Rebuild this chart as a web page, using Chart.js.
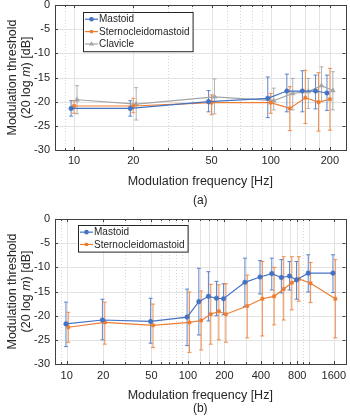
<!DOCTYPE html>
<html>
<head>
<meta charset="utf-8">
<script src="https://cdn.jsdelivr.net/npm/chart.js@4.4.1/dist/chart.umd.min.js"></script>
<style>
html, body { margin: 0; padding: 0; background: #fff; }
#wrap { position: relative; width: 350px; height: 418px; overflow: hidden; }
canvas { position: absolute; left: 0; }
</style>
</head>
<body>
<div id="wrap">
  <canvas id="chartA" width="350" height="212" style="top:0"></canvas>
  <canvas id="chartB" width="350" height="206" style="top:212px"></canvas>
</div>
<script>
// ---- data (a): three sites, 10-200 Hz ----
const freqA = [10, 20, 50, 100, 125, 150, 175, 200];
const mastoidA = [-21.4, -21.4, -20.0, -19.3, -17.8, -17.8, -17.8, -18.2];
const mastoidA_hi = [-19.8, -19.8, -17.7, -14.9, -14.3, -13.6, -14.5, -14.5];
const mastoidA_lo = [-23.0, -23.0, -22.1, -23.3, -22.1, -22.1, -21.5, -21.8];
const scmA = [-20.9, -20.9, -20.2, -20.2, -21.4, -19.2, -20.1, -19.5];
const scmA_hi = [-19.8, -19.3, -18.6, -18.3, -16.9, -13.5, -14.0, -13.1];
const scmA_lo = [-22.4, -22.3, -22.7, -22.4, -26.0, -24.5, -26.1, -25.9];
const clavA = [-19.6, -20.5, -19.0, -19.8, -18.3, -17.9, -16.7, -17.7];
const clavA_hi = [-16.7, -17.1, -15.3, -17.2, -15.2, -15.2, -12.8, -13.8];
const clavA_lo = [-22.5, -23.8, -22.5, -21.7, -21.7, -21.4, -20.0, -21.7];
const labelsA = [10, 20, 50, 100, 200];
const minorA = [9, 30, 40, 60, 70, 80, 90];

// ---- data (b): two sites, 10-1600 Hz ----
const freqB = [10, 20, 50, 100, 125, 150, 175, 200, 300, 400, 500, 600, 700, 800, 1000, 1600];
const mastoidB = [-21.7, -20.9, -21.2, -20.3, -17.1, -16.0, -16.4, -16.5, -13.1, -12.0, -11.3, -12.1, -11.8, -12.6, -11.2, -11.2];
const mastoidB_hi = [-17.2, -16.6, -16.4, -14.5, -10.2, -10.9, -12.9, -13.4, -8.1, -8.6, -8.1, -8.4, -8.8, -8.8, -7.4, -7.4];
const mastoidB_lo = [-26.4, -25.0, -25.7, -26.2, -24.0, -21.1, -20.0, -19.8, -18.1, -15.5, -14.7, -15.3, -14.7, -16.6, -15.1, -15.2];
const scmB = [-22.4, -21.4, -22.0, -21.4, -21.0, -19.7, -19.1, -19.7, -18.0, -16.5, -16.0, -14.5, -13.2, -12.4, -13.3, -16.5];
const scmB_hi = [-19.3, -17.2, -17.6, -15.1, -14.9, -13.5, -13.6, -13.4, -11.6, -8.8, -10.0, -7.8, -7.8, -7.8, -9.0, -8.4];
const scmB_lo = [-25.5, -25.9, -26.6, -27.6, -27.1, -25.9, -25.0, -25.5, -24.6, -24.2, -21.9, -20.9, -18.8, -17.0, -17.3, -24.6];
const labelsB = [10, 20, 50, 100, 200, 400, 800, 1600];
const minorB = [9, 30, 40, 60, 70, 80, 90, 900];

const yTicks = [0, -5, -10, -15, -20, -25, -30];

const FONT = "'Liberation Sans', Arial, sans-serif";
const TXT = '#262626';
const BLUE = '#4472C4', ORANGE = '#ED7D31', GRAY = '#A5A5A5';

// small shift on the log axis so the error bars don't sit on top of each other
const pts = (f, v, shift) => f.map((fr, i) => ({ x: fr * shift, y: v[i] }));

const series = (label, color, style, radius, f, v, hi, lo, shift) => ({
    label, data: pts(f, v, shift), errHi: hi, errLo: lo,
    borderColor: color, backgroundColor: color,
    pointBackgroundColor: color, pointBorderColor: color,
    pointStyle: style, pointRadius: radius, pointBorderWidth: 0.5,
    borderWidth: 1.2, tension: 0
});

const marker = (ctx, style, x, y) => {
    ctx.beginPath();
    if (style === 'circle') ctx.arc(x, y, 2.3, 0, Math.PI * 2);
    else if (style === 'rect') ctx.rect(x - 1.6, y - 1.6, 3.2, 3.2);
    else { ctx.moveTo(x, y - 2.8); ctx.lineTo(x + 2.6, y + 1.6); ctx.lineTo(x - 2.6, y + 1.6); ctx.closePath(); }
    ctx.fill();
};

const frame = {
    id: 'frame',
    beforeDatasetsDraw(chart) {
        const { ctx, chartArea: a, scales: { x, y } } = chart;
        const p = chart.options.plugins.frame;
        ctx.save();
        ctx.lineWidth = 1;
        ctx.strokeStyle = '#e3e3e3';
        const vline = (v) => { const px = Math.round(x.getPixelForValue(v)) + 0.5; ctx.beginPath(); ctx.moveTo(px, a.top); ctx.lineTo(px, a.bottom); ctx.stroke(); };
        yTicks.forEach(v => {
            const py = Math.round(y.getPixelForValue(v)) + 0.5;
            ctx.beginPath(); ctx.moveTo(a.left, py); ctx.lineTo(a.right, py); ctx.stroke();
        });
        p.major.forEach(vline);
        ctx.strokeStyle = '#d6d6d6';
        ctx.setLineDash([1, 2]);
        p.minor.forEach(vline);
        ctx.setLineDash([]);

        // error bars
        chart.data.datasets.forEach((ds, i) => {
            const meta = chart.getDatasetMeta(i);
            ctx.strokeStyle = ds.borderColor;
            ctx.globalAlpha = 0.85;
            meta.data.forEach((pt, j) => {
                const t = y.getPixelForValue(ds.errHi[j]);
                const b = y.getPixelForValue(ds.errLo[j]);
                ctx.beginPath();
                ctx.moveTo(pt.x, t); ctx.lineTo(pt.x, b);
                ctx.moveTo(pt.x - 2, t); ctx.lineTo(pt.x + 2, t);
                ctx.moveTo(pt.x - 2, b); ctx.lineTo(pt.x + 2, b);
                ctx.stroke();
            });
        });
        ctx.restore();
    },
    afterDatasetsDraw(chart) {
        const { ctx, chartArea: a, scales: { x, y } } = chart;
        const p = chart.options.plugins.frame;
        ctx.save();

        // box + inward ticks
        ctx.strokeStyle = '#404040';
        ctx.lineWidth = 1;
        ctx.strokeRect(Math.round(a.left) + 0.5, Math.round(a.top) + 0.5, Math.round(a.right - a.left), Math.round(a.bottom - a.top));
        ctx.beginPath();
        p.major.concat(p.minor).forEach(v => {
            const px = Math.round(x.getPixelForValue(v)) + 0.5;
            const len = p.labels.includes(v) ? 3 : 2;
            ctx.moveTo(px, a.bottom); ctx.lineTo(px, a.bottom - len);
            ctx.moveTo(px, a.top); ctx.lineTo(px, a.top + len);
        });
        yTicks.forEach(v => {
            const py = Math.round(y.getPixelForValue(v)) + 0.5;
            ctx.moveTo(a.left, py); ctx.lineTo(a.left + 3, py);
            ctx.moveTo(a.right, py); ctx.lineTo(a.right - 3, py);
        });
        ctx.stroke();

        // tick labels
        ctx.fillStyle = TXT;
        ctx.font = '11px ' + FONT;
        ctx.textBaseline = 'middle';
        ctx.textAlign = 'right';
        yTicks.forEach(v => ctx.fillText(String(v), a.left - 5, y.getPixelForValue(v)));
        ctx.textAlign = 'center';
        p.labels.forEach(v => ctx.fillText(String(v), x.getPixelForValue(v), a.bottom + p.tickOff));

        // axis titles
        const cx = (a.left + a.right) / 2, cy = (a.top + a.bottom) / 2;
        ctx.font = '12.5px ' + FONT;
        ctx.fillText('Modulation frequency [Hz]', cx, a.bottom + p.titleOff);
        ctx.font = '12px ' + FONT;
        ctx.fillText(p.panel, cx, a.bottom + p.panelOff);

        ctx.save();
        ctx.translate(13, cy);
        ctx.rotate(-Math.PI / 2);
        ctx.font = '12.5px ' + FONT;
        ctx.fillText('Modulation threshold', 0, 0);
        const parts = [['(20 log ', '12.5px '], ['m', 'italic 12.5px '], [') [dB]', '12.5px ']];
        let w = 0;
        parts.forEach(([s, f]) => { ctx.font = f + FONT; w += ctx.measureText(s).width; });
        let sx = -w / 2;
        ctx.textAlign = 'left';
        parts.forEach(([s, f]) => { ctx.font = f + FONT; ctx.fillText(s, sx, 14); sx += ctx.measureText(s).width; });
        ctx.restore();

        // legend
        const L = p.legend;
        ctx.font = '10px ' + FONT;
        const dsets = chart.data.datasets;
        const tw = Math.max(...dsets.map(d => ctx.measureText(d.label).width));
        const bw = 16 + tw + 3, bh = dsets.length * L.row + 2;
        ctx.fillStyle = '#fff';
        ctx.fillRect(L.x, L.y, bw, bh);
        ctx.strokeStyle = '#262626';
        ctx.lineWidth = 1;
        ctx.strokeRect(L.x + 0.5, L.y + 0.5, bw, bh);
        dsets.forEach((d, i) => {
            const ry = L.y + 1 + L.row * (i + 0.5);
            ctx.strokeStyle = d.borderColor;
            ctx.lineWidth = 1.2;
            ctx.beginPath(); ctx.moveTo(L.x + 2, ry); ctx.lineTo(L.x + 15, ry); ctx.stroke();
            ctx.fillStyle = d.borderColor;
            marker(ctx, d.pointStyle, L.x + 8.5, ry);
            ctx.fillStyle = TXT;
            ctx.textAlign = 'left';
            ctx.fillText(d.label, L.x + 16, ry + 0.5);
        });
        ctx.restore();
    }
};

const makePanel = (id, datasets, opt) => new Chart(document.getElementById(id), {
    type: 'line',
    data: { datasets },
    options: {
        responsive: false,
        devicePixelRatio: 1,
        animation: false,
        layout: { padding: { left: 0, right: 3, top: opt.padTop, bottom: 0 } },
        scales: {
            x: {
                type: 'logarithmic', min: 8, max: opt.xMax,
                ticks: { display: false }, grid: { display: false }, border: { display: false },
                afterFit: s => { s.height = opt.xHeight; }
            },
            y: {
                type: 'linear', min: -30, max: 0,
                ticks: { display: false }, grid: { display: false }, border: { display: false },
                afterFit: s => { s.width = 55; }
            }
        },
        plugins: {
            legend: { display: false },
            tooltip: { enabled: false },
            frame: opt
        }
    },
    plugins: [frame]
});

makePanel('chartA', [
    series('Mastoid', BLUE, 'circle', 2.3, freqA, mastoidA, mastoidA_hi, mastoidA_lo, 0.966),
    series('Sternocleidomastoid', ORANGE, 'rect', 2.2, freqA, scmA, scmA_hi, scmA_lo, 1.0),
    series('Clavicle', GRAY, 'triangle', 2.8, freqA, clavA, clavA_hi, clavA_lo, 1.035)
], {
    padTop: 5, xHeight: 62, xMax: 240,
    labels: labelsA, major: freqA, minor: minorA,
    tickOff: 11, titleOff: 31.5, panelOff: 51, panel: '(a)',
    legend: { x: 83, y: 12, row: 12.4 }
});

makePanel('chartB', [
    series('Mastoid', BLUE, 'circle', 2.3, freqB, mastoidB, mastoidB_hi, mastoidB_lo, 0.985),
    series('Sternocleidomastoid', ORANGE, 'rect', 2.2, freqB, scmB, scmB_hi, scmB_lo, 1.03)
], {
    padTop: 7, xHeight: 54, xMax: 2000,
    labels: labelsB, major: freqB, minor: minorB,
    tickOff: 12, titleOff: 32, panelOff: 45, panel: '(b)',
    legend: { x: 78, y: 13, row: 12.3 }
});
</script>
</body>
</html>
